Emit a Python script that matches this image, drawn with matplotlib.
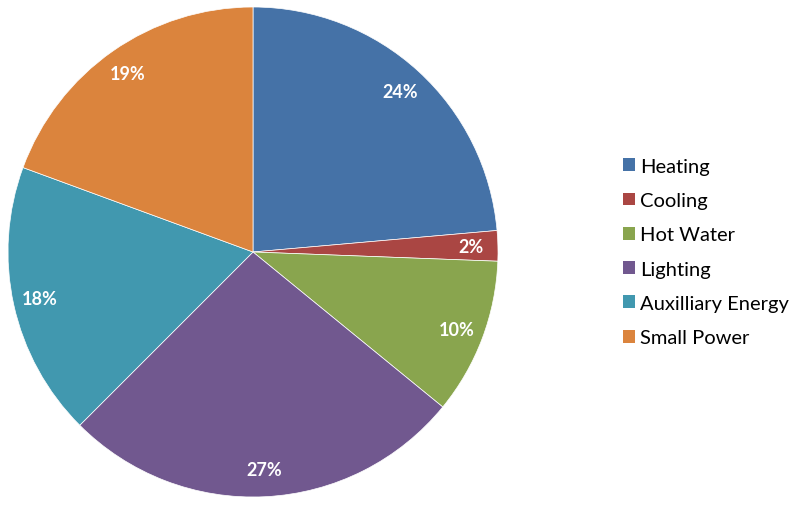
import matplotlib
matplotlib.use("Agg")
import matplotlib.pyplot as plt
from matplotlib.patches import Patch

categories = ["Heating", "Cooling", "Hot Water", "Lighting", "Auxilliary Energy", "Small Power"]
values = [23.6, 2.0, 10.3, 26.6, 18.1, 19.4]
colors = ["#4572A7", "#AA4643", "#89A54E", "#71588F", "#4198AF", "#DB843D"]

plt.rcParams['font.family'] = ['Lato', 'DejaVu Sans']

fig = plt.figure(figsize=(8, 5.06), dpi=100)
ax = fig.add_axes([8/800, 8/506, 490/800, 490/506])
wedges, texts, autotexts = ax.pie(
    values, colors=colors, startangle=90, counterclock=False,
    autopct=lambda p: f"{p:.0f}%", pctdistance=0.89,
    wedgeprops=dict(linewidth=0.5, edgecolor="white"),
    textprops=dict(color="white", fontsize=13, fontweight="bold"))
ax.set_xlim(-1, 1)
ax.set_ylim(-1, 1)
ax.set_aspect("equal")
ax.axis("off")

handles = [Patch(facecolor=c, edgecolor='none') for c in colors]
fig.legend(handles, categories, loc="center left", bbox_to_anchor=(605/800, 1 - 253/506),
           frameon=False, fontsize=14.5, handlelength=0.6, handleheight=0.6,
           handletextpad=0.25, labelspacing=0.86)
fig.savefig("out.png", dpi=100)
